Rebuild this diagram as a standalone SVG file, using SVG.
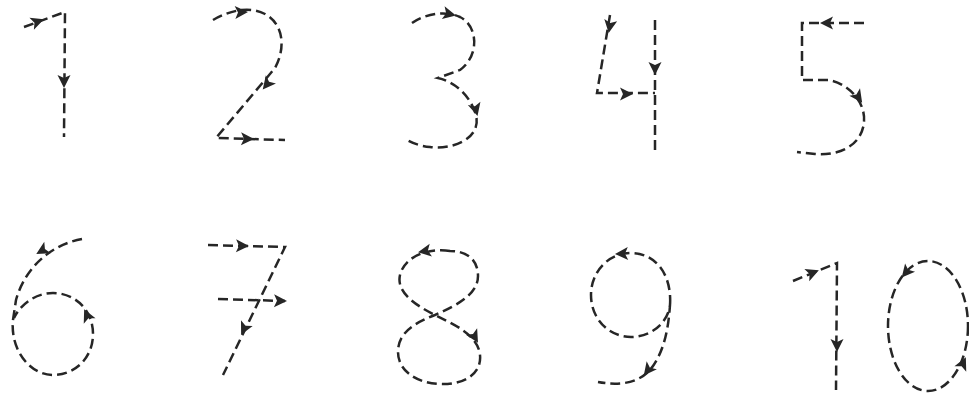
<svg xmlns="http://www.w3.org/2000/svg" width="969" height="395" viewBox="0 0 969 395">
<style>
.d{fill:none;stroke:#262626;stroke-width:2.5;stroke-dasharray:10 5;stroke-linecap:butt;stroke-linejoin:miter}
.a{fill:#262626}
</style>
<defs>
<path id="ah" d="M2,0 L-11,-6.5 L-8,0 L-11,6.5 Z"/>
</defs>
<rect width="969" height="395" fill="#fff"/>
<g id="digit1">
<path class="d" d="M24,27 L65,12 L64,137"/>
<use href="#ah" class="a" transform="translate(42,20) rotate(-20)"/>
<use href="#ah" class="a" transform="translate(64,86) rotate(90)"/>
</g>
<g id="digit2">
<path class="d" d="M213,20 C230,10 250,6 265,14 C285,25 285,50 275,68 L216,138 L285,140"/>
<use href="#ah" class="a" transform="translate(246,12) rotate(-3)"/>
<use href="#ah" class="a" transform="translate(264,88) rotate(129)"/>
<use href="#ah" class="a" transform="translate(252,139) rotate(1)"/>
</g>
<g id="digit3">
<path class="d" d="M412,23 C425,14 445,10 460,17 C478,26 480,55 460,70 L438,78 C455,82 470,95 476,115 C482,140 450,150 430,147 C420,146 412,143 407,140"/>
<use href="#ah" class="a" transform="translate(454,15) rotate(12)"/>
<use href="#ah" class="a" transform="translate(477,114) rotate(75)"/>
</g>
<g id="digit4">
<path class="d" d="M610,15 L597,93 L655,93"/>
<path class="d" d="M655,20 L655,150"/>
<use href="#ah" class="a" transform="translate(609,31) rotate(99)"/>
<use href="#ah" class="a" transform="translate(631,94) rotate(0)"/>
<use href="#ah" class="a" transform="translate(655,73) rotate(90)"/>
</g>
<g id="digit5">
<path class="d" d="M864,23 L802,23 L802,80 L828,80 C845,82 866,100 864,122 C862,145 840,156 815,154 L797,152"/>
<use href="#ah" class="a" transform="translate(822,23) rotate(180)"/>
<use href="#ah" class="a" transform="translate(861,101) rotate(55)"/>
</g>
<g id="digit6">
<path class="d" d="M82,239 C50,245 25,268 16,300 L13,320 C10,350 30,375 53,375 C75,375 93,358 93,334 C93,310 75,293 53,293 C35,293 20,305 14,318"/>
<use href="#ah" class="a" transform="translate(38,253) rotate(150)"/>
<use href="#ah" class="a" transform="translate(85,311) rotate(-115)"/>
</g>
<g id="digit7">
<path class="d" d="M208,245 L285,247 L223,375"/>
<path class="d" d="M218,299 L285,301"/>
<use href="#ah" class="a" transform="translate(247,246) rotate(1)"/>
<use href="#ah" class="a" transform="translate(242,333) rotate(116)"/>
<use href="#ah" class="a" transform="translate(285,301) rotate(1)"/>
</g>
<g id="digit8">
<path class="d" d="M450,251 C430,248 405,255 400,275 C396,292 415,305 435,315 C455,325 478,335 480,355 C482,375 462,385 440,384 C415,383 398,370 398,352 C398,332 415,323 435,315 C455,306 478,295 478,276 C478,258 465,251 450,251 Z"/>
<use href="#ah" class="a" transform="translate(420,252) rotate(170)"/>
<use href="#ah" class="a" transform="translate(477,341) rotate(60)"/>
</g>
<g id="digit9">
<path class="d" d="M670,305 C672,275 656,253 631,253 C608,253 591,272 591,295 C591,320 610,337 631,337 C652,337 668,322 670,305 C668,335 662,355 650,370 C638,383 620,386 598,382"/>
<use href="#ah" class="a" transform="translate(617,254) rotate(178)"/>
<use href="#ah" class="a" transform="translate(645,374) rotate(128)"/>
</g>
<g id="digit10">
<path class="d" d="M793,281 L837,263 L836,390"/>
<use href="#ah" class="a" transform="translate(817,271) rotate(-22)"/>
<use href="#ah" class="a" transform="translate(837,350) rotate(90)"/>
<ellipse class="d" cx="928" cy="326" rx="40" ry="65"/>
<use href="#ah" class="a" transform="translate(903,276) rotate(130)"/>
<use href="#ah" class="a" transform="translate(965,359) rotate(-65)"/>
</g>
</svg>
